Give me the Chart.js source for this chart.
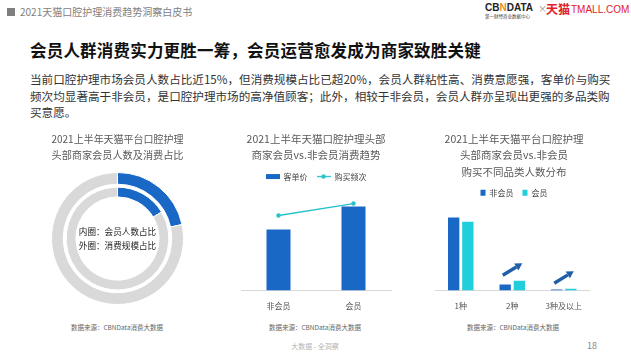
<!DOCTYPE html>
<html><head><meta charset="utf-8">
<script src="https://cdn.jsdelivr.net/npm/chart.js@4.4.0/dist/chart.umd.min.js"></script>
<style>
html,body{margin:0;padding:0;background:#fff;}
body{width:631px;height:355px;position:relative;overflow:hidden;font-family:'Noto Sans CJK SC','Noto Sans',sans-serif;}
.abs{position:absolute;white-space:nowrap;}
canvas{position:absolute;}
.src{position:absolute;width:200px;text-align:center;font-size:6.5px;line-height:10px;color:#666;white-space:nowrap;}
</style></head><body>
<div class="abs" style="left:7px;top:8px;width:8px;height:8px;background:#7f7f7f"></div>
<div class="abs" style="left:20px;top:5px;font-size:10px;line-height:14px;color:#7f7f7f">2021天猫口腔护理消费趋势洞察白皮书</div>
<div class="abs" style="left:485px;top:2px;font-family:'Liberation Sans',sans-serif;font-weight:bold;font-size:10px;line-height:12px;color:#222">CB<span style="color:#f08a24">N</span>DATA</div>
<div class="abs" style="left:485px;top:14px;font-size:4.5px;line-height:5px;color:#444">第一财经商业数据中心</div>
<div class="abs" style="left:538px;top:3px;font-size:9px;line-height:12px;color:#888">×</div>
<div class="abs" style="left:546px;top:1px;font-weight:bold;font-size:12px;line-height:15px;color:#e0202a">天猫</div>
<div class="abs" style="left:571px;top:3px;font-family:'Liberation Sans',sans-serif;font-size:10px;line-height:13px;color:#e0202a">TMALL.COM</div>

<div class="abs" style="left:30px;top:41px;font-weight:bold;font-size:16.5px;letter-spacing:0.2px;line-height:18px;color:#111">会员人群消费实力更胜一筹，会员运营愈发成为商家致胜关键</div>
<div class="abs" style="left:30px;top:71px;font-size:11.6px;line-height:16.5px;color:#333">当前口腔护理市场会员人数占比近15%，但消费规模占比已超20%，会员人群粘性高、消费意愿强，客单价与购买<br>频次均显著高于非会员，是口腔护理市场的高净值顾客；此外，相较于非会员，会员人群亦呈现出更强的多品类购<br>买意愿。</div>

<canvas id="c1" width="155" height="185" style="left:40px;top:129px"></canvas>
<canvas id="c2" width="158" height="193" style="left:237px;top:129px"></canvas>
<canvas id="c3" width="158" height="193" style="left:435px;top:129px"></canvas>

<div class="src" style="left:17px;top:322px">数据来源：CBNData消费大数据</div>
<div class="src" style="left:215px;top:322px">数据来源：CBNData消费大数据</div>
<div class="src" style="left:413px;top:322px">数据来源：CBNData消费大数据</div>
<div class="abs" style="left:215px;width:200px;text-align:center;top:341px;font-size:7px;line-height:11px;color:#b5b5b5">大数据 - 全洞察</div>
<div class="abs" style="left:587px;top:340px;font-size:9px;line-height:12px;color:#888">18</div>

<script>
// ---------- data ----------
const ringLabels = ['会员', '非会员'];
const outerConsumptionShare = [21.6, 78.4];   // 外圈：消费规模占比
const innerMemberCountShare = [16.4, 83.6];   // 内圈：会员人数占比
const centerLines = ['内圈：会员人数占比', '外圈：消费规模占比'];

const trendCategories = ['非会员', '会员'];
const unitPrice = [61, 84];        // 客单价 (relative)
const purchaseFreq = [75, 87];     // 购买频次 (relative)

const categoryCounts = ['1种', '2种', '3种及以上'];
const nonMemberDist = [91.4, 7.4, 1.2];
const memberDist = [85.9, 12.0, 2.1];
const arrowCategories = ['2种', '3种及以上'];

// ---------- styles ----------
const FONT = "'Noto Sans CJK SC','Noto Sans',sans-serif";
const BLUE = '#1a68c6';
const GRAY = '#d9d9d9';
const TEAL = '#27c3ca';
const CYAN = '#20cfdb';
Chart.defaults.font.family = FONT;
Chart.defaults.animation = false;
Chart.defaults.plugins.tooltip.enabled = false;

const titleOpts = (lines) => ({
  display: true, text: lines, color: '#595959',
  font: {size: 10.5, weight: 'normal', lineHeight: 1.55, family: FONT},
  padding: {top: 2, bottom: 0}
});

// ---------- chart 1: doughnut ----------
const centerText = {
  id: 'centerText',
  afterDraw(chart) {
    const {ctx, chartArea: a} = chart;
    const cx = (a.left + a.right) / 2, cy = (a.top + a.bottom) / 2;
    ctx.save();
    ctx.font = 'normal 8.6px ' + FONT;
    ctx.fillStyle = '#222';
    ctx.textAlign = 'center';
    ctx.textBaseline = 'middle';
    ctx.fillText(centerLines[0], cx, cy - 6.5);
    ctx.fillText(centerLines[1], cx, cy + 7.5);
    ctx.restore();
  }
};
const t1 = titleOpts(['2021上半年天猫平台口腔护理', '头部商家会员人数及消费占比']);
t1.padding = {top: 2, bottom: 9.5};
new Chart(document.getElementById('c1'), {
  type: 'doughnut',
  data: {
    labels: ringLabels,
    datasets: [
      {label: '消费规模占比', data: outerConsumptionShare, backgroundColor: [BLUE, GRAY], borderColor: '#fff', borderWidth: 1, weight: 12},
      {label: '', data: [1], backgroundColor: 'rgba(0,0,0,0)', borderWidth: 0, weight: 3},
      {label: '会员人数占比', data: innerMemberCountShare, backgroundColor: [BLUE, GRAY], borderColor: '#fff', borderWidth: 1, weight: 10}
    ]
  },
  options: {
    responsive: false, radius: 66, cutout: 41,
    layout: {padding: {left: 11.5, right: 11.5, bottom: 10}},
    plugins: {legend: {display: false}, title: t1}
  },
  plugins: [centerText]
});

// ---------- chart 2: bar + line ----------
function makeIcon(kind) {
  const c = document.createElement('canvas');
  c.width = 14; c.height = 7;
  const g = c.getContext('2d');
  if (kind === 'rect') {
    g.fillStyle = BLUE; g.fillRect(0, 1, 14, 5);
  } else {
    g.strokeStyle = TEAL; g.lineWidth = 1.3;
    g.beginPath(); g.moveTo(0, 3.5); g.lineTo(14, 3.5); g.stroke();
    g.fillStyle = TEAL; g.beginPath(); g.arc(7, 3.5, 2.2, 0, Math.PI * 2); g.fill();
  }
  return c;
}
const rectIcon = makeIcon('rect'), lineIcon = makeIcon('line');

new Chart(document.getElementById('c2'), {
  data: {
    labels: trendCategories,
    datasets: [
      {type: 'bar', label: '客单价', data: unitPrice, yAxisID: 'y', backgroundColor: BLUE, categoryPercentage: 1, barPercentage: 0.32},
      {type: 'line', label: '购买频次', data: purchaseFreq, yAxisID: 'y2', borderColor: TEAL, backgroundColor: TEAL,
       borderWidth: 1.3, pointRadius: 2.2, pointBackgroundColor: TEAL, pointBorderWidth: 0}
    ]
  },
  options: {
    responsive: false,
    layout: {padding: 0},
    scales: {
      x: {grid: {display: false, drawTicks: false}, border: {display: true, color: '#d9d9d9'},
          ticks: {font: {size: 8}, color: '#555', padding: 11}},
      y: {display: false, min: 0, max: 100},
      y2: {display: false, min: 0, max: 100}
    },
    plugins: {
      title: titleOpts(['2021上半年天猫口腔护理头部', '商家会员vs.非会员消费趋势']),
      legend: {
        labels: {
          usePointStyle: true, pointStyleWidth: 14, padding: 9, color: '#444', font: {size: 8},
          generateLabels(chart) {
            const items = Chart.defaults.plugins.legend.labels.generateLabels(chart);
            items.forEach(it => { it.pointStyle = it.datasetIndex === 0 ? rectIcon : lineIcon; });
            return items;
          }
        }
      }
    }
  }
});

// ---------- chart 3: grouped bars ----------
function drawArrow(ctx, x1, y1, x2, y2) {
  const ang = Math.atan2(y2 - y1, x2 - x1);
  const head = 7, hw = 4;
  const bx = x2 - head * Math.cos(ang), by = y2 - head * Math.sin(ang);
  ctx.save();
  ctx.strokeStyle = '#1f5ea8'; ctx.fillStyle = '#1f5ea8';
  ctx.lineWidth = 3.4; ctx.lineCap = 'butt';
  ctx.beginPath(); ctx.moveTo(x1, y1); ctx.lineTo(bx, by); ctx.stroke();
  ctx.beginPath();
  ctx.moveTo(x2, y2);
  ctx.lineTo(bx + hw * Math.sin(ang), by - hw * Math.cos(ang));
  ctx.lineTo(bx - hw * Math.sin(ang), by + hw * Math.cos(ang));
  ctx.closePath(); ctx.fill();
  ctx.restore();
}
const arrowPlugin = {
  id: 'arrows',
  afterDatasetsDraw(chart) {
    const {ctx, scales: {x, y}} = chart;
    arrowCategories.forEach(cat => {
      const i = categoryCounts.indexOf(cat);
      const cx = x.getPixelForValue(i);
      const top = Math.min(y.getPixelForValue(nonMemberDist[i]), y.getPixelForValue(memberDist[i]));
      drawArrow(ctx, cx - 9.5, top - 5.5, cx + 10, top - 17.5);
    });
  }
};
new Chart(document.getElementById('c3'), {
  type: 'bar',
  data: {
    labels: categoryCounts,
    datasets: [
      {label: '非会员', data: nonMemberDist, backgroundColor: BLUE, categoryPercentage: 0.55, barPercentage: 0.8},
      {label: '会员', data: memberDist, backgroundColor: CYAN, categoryPercentage: 0.55, barPercentage: 0.8}
    ]
  },
  options: {
    responsive: false,
    layout: {padding: 0},
    scales: {
      x: {grid: {display: false, drawTicks: false}, border: {display: true, color: '#d9d9d9'},
          ticks: {font: {size: 8}, color: '#555', padding: 11}},
      y: {display: false, min: 0, max: 104.7}
    },
    plugins: {
      title: titleOpts(['2021上半年天猫平台口腔护理', '头部商家会员vs.非会员', '购买不同品类人数分布']),
      legend: {labels: {boxWidth: 5, boxHeight: 6, padding: 9, color: '#444', font: {size: 8}}}
    }
  },
  plugins: [arrowPlugin]
});
</script>
</body></html>
